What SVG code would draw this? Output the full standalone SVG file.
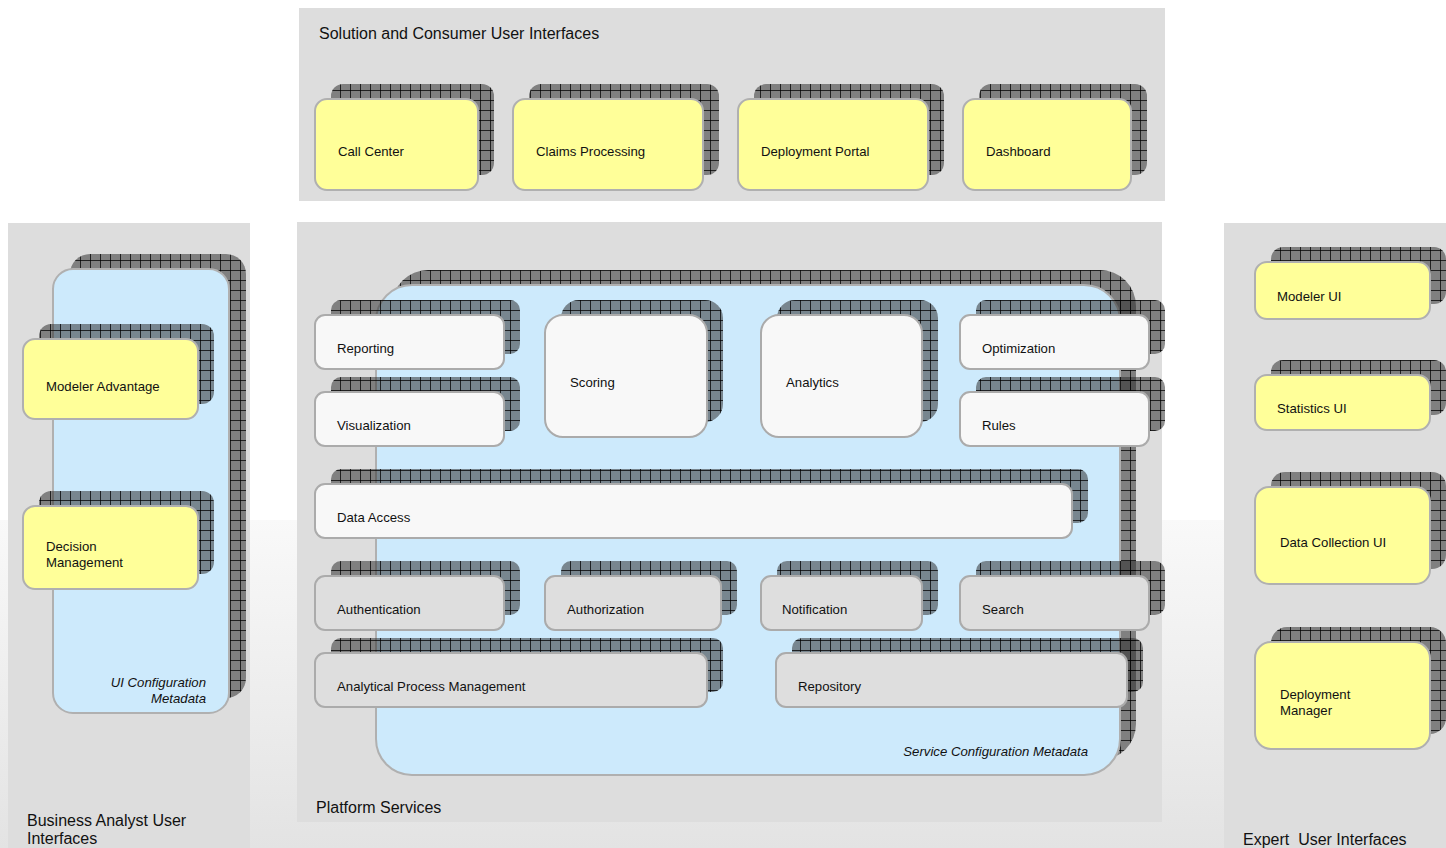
<svg xmlns="http://www.w3.org/2000/svg" width="1446" height="848" viewBox="0 0 1446 848">
<defs>
<linearGradient id="bg" x1="0" y1="0" x2="0" y2="1">
<stop offset="0" stop-color="#f9f9f9"/>
<stop offset="1" stop-color="#e3e3e3"/>
</linearGradient>
<pattern id="grid" width="10" height="10" patternUnits="userSpaceOnUse">
<rect width="10" height="10" fill="#2a2a2a" fill-opacity="0.52"/>
<path d="M0 0.5H10M0.5 0V10" stroke="#000" stroke-opacity="0.75" stroke-width="1" fill="none"/>
</pattern>
</defs>
<style>
.panel{fill:#dddddd}
.sh{fill:url(#grid)}
.y{fill:#ffff99;stroke:#b0b0b0;stroke-width:2}
.w{fill:#f8f8f8;stroke:#ababab;stroke-width:2}
.g{fill:#dedede;stroke:#ababab;stroke-width:2}
.b{fill:#cdeafc;stroke:#b0b0b0;stroke-width:2}
text{font-family:"Liberation Sans",Arial,sans-serif;fill:#111}
.t{font-size:13.2px}
.h{font-size:16px;white-space:pre}
.i{font-size:13.2px;font-style:italic;text-anchor:end}
</style>
<rect width="1446" height="848" fill="#ffffff"/>
<rect y="520" width="1446" height="328" fill="url(#bg)"/>

<g id="panel-top">
<rect class="panel" x="299" y="8" width="866" height="193"/>
<text class="h" x="319" y="39">Solution and Consumer User Interfaces</text>
</g>
<g id="panel-platform">
<rect class="panel" x="297" y="222" width="865" height="600"/>
<text class="h" x="316" y="813">Platform Services</text>
</g>
<g id="panel-left">
<rect class="panel" x="8" y="223" width="242" height="625"/>
<text class="h" x="27" y="826">Business Analyst User</text>
<text class="h" x="27" y="844">Interfaces</text>
</g>
<g id="panel-right">
<rect class="panel" x="1224" y="223" width="222" height="625"/>
<text class="h" x="1243" y="845" xml:space="preserve">Expert  User Interfaces</text>
</g>

<g id="call-center">
<rect class="sh" x="331" y="84" width="163" height="91" rx="12"/>
<rect class="y" x="315" y="99" width="163" height="91" rx="12"/>
<text class="t" x="338" y="156">Call Center</text>
</g>
<g id="claims-processing">
<rect class="sh" x="529" y="84" width="190" height="91" rx="12"/>
<rect class="y" x="513" y="99" width="190" height="91" rx="12"/>
<text class="t" x="536" y="156">Claims Processing</text>
</g>
<g id="deployment-portal">
<rect class="sh" x="754" y="84" width="190" height="91" rx="12"/>
<rect class="y" x="738" y="99" width="190" height="91" rx="12"/>
<text class="t" x="761" y="156">Deployment Portal</text>
</g>
<g id="dashboard">
<rect class="sh" x="979" y="84" width="168" height="91" rx="12"/>
<rect class="y" x="963" y="99" width="168" height="91" rx="12"/>
<text class="t" x="986" y="156">Dashboard</text>
</g>

<g id="ui-config">
<rect class="sh" x="70" y="254" width="176" height="444" rx="20"/>
<rect class="b" x="53" y="269" width="176" height="444" rx="20"/>
<text class="i" x="206" y="687">UI Configuration</text>
<text class="i" x="206" y="703">Metadata</text>
</g>
<g id="modeler-advantage">
<rect class="sh" x="39" y="324" width="175" height="80" rx="12"/>
<rect class="y" x="23" y="339" width="175" height="80" rx="12"/>
<text class="t" x="46" y="391">Modeler Advantage</text>
</g>
<g id="decision-management">
<rect class="sh" x="39" y="491" width="175" height="83" rx="12"/>
<rect class="y" x="23" y="506" width="175" height="83" rx="12"/>
<text class="t" x="46" y="551">Decision</text>
<text class="t" x="46" y="567">Management</text>
</g>

<g id="modeler-ui">
<rect class="sh" x="1271" y="247" width="175" height="57" rx="12"/>
<rect class="y" x="1255" y="262" width="175" height="57" rx="12"/>
<text class="t" x="1277" y="301">Modeler UI</text>
</g>
<g id="statistics-ui">
<rect class="sh" x="1271" y="360" width="175" height="55" rx="12"/>
<rect class="y" x="1255" y="375" width="175" height="55" rx="12"/>
<text class="t" x="1277" y="413">Statistics UI</text>
</g>
<g id="data-collection-ui">
<rect class="sh" x="1271" y="472" width="175" height="97" rx="14"/>
<rect class="y" x="1255" y="487" width="175" height="97" rx="14"/>
<text class="t" x="1280" y="547">Data Collection UI</text>
</g>
<g id="deployment-manager">
<rect class="sh" x="1271" y="627" width="175" height="107" rx="16"/>
<rect class="y" x="1255" y="642" width="175" height="107" rx="16"/>
<text class="t" x="1280" y="699">Deployment</text>
<text class="t" x="1280" y="715">Manager</text>
</g>

<g id="service-config">
<rect class="sh" x="392" y="270" width="744" height="490" rx="36"/>
<rect class="b" x="376" y="285" width="744" height="490" rx="36"/>
<text class="i" x="1088" y="756">Service Configuration Metadata</text>
</g>
<g id="reporting">
<rect class="sh" x="331" y="300" width="189" height="54" rx="10"/>
<rect class="w" x="315" y="315" width="189" height="54" rx="10"/>
<text class="t" x="337" y="353">Reporting</text>
</g>
<g id="visualization">
<rect class="sh" x="331" y="377" width="189" height="54" rx="10"/>
<rect class="w" x="315" y="392" width="189" height="54" rx="10"/>
<text class="t" x="337" y="430">Visualization</text>
</g>
<g id="scoring">
<rect class="sh" x="561" y="300" width="162" height="122" rx="18"/>
<rect class="w" x="545" y="315" width="162" height="122" rx="18"/>
<text class="t" x="570" y="387">Scoring</text>
</g>
<g id="analytics">
<rect class="sh" x="777" y="300" width="161" height="122" rx="18"/>
<rect class="w" x="761" y="315" width="161" height="122" rx="18"/>
<text class="t" x="786" y="387">Analytics</text>
</g>
<g id="optimization">
<rect class="sh" x="976" y="300" width="189" height="54" rx="10"/>
<rect class="w" x="960" y="315" width="189" height="54" rx="10"/>
<text class="t" x="982" y="353">Optimization</text>
</g>
<g id="rules">
<rect class="sh" x="976" y="377" width="189" height="54" rx="10"/>
<rect class="w" x="960" y="392" width="189" height="54" rx="10"/>
<text class="t" x="982" y="430">Rules</text>
</g>
<g id="data-access">
<rect class="sh" x="331" y="469" width="757" height="54" rx="10"/>
<rect class="w" x="315" y="484" width="757" height="54" rx="10"/>
<text class="t" x="337" y="522">Data Access</text>
</g>
<g id="authentication">
<rect class="sh" x="331" y="561" width="189" height="54" rx="10"/>
<rect class="g" x="315" y="576" width="189" height="54" rx="10"/>
<text class="t" x="337" y="614">Authentication</text>
</g>
<g id="authorization">
<rect class="sh" x="561" y="561" width="176" height="54" rx="10"/>
<rect class="g" x="545" y="576" width="176" height="54" rx="10"/>
<text class="t" x="567" y="614">Authorization</text>
</g>
<g id="notification">
<rect class="sh" x="777" y="561" width="161" height="54" rx="10"/>
<rect class="g" x="761" y="576" width="161" height="54" rx="10"/>
<text class="t" x="782" y="614">Notification</text>
</g>
<g id="search">
<rect class="sh" x="976" y="561" width="189" height="54" rx="10"/>
<rect class="g" x="960" y="576" width="189" height="54" rx="10"/>
<text class="t" x="982" y="614">Search</text>
</g>
<g id="analytical-process-management">
<rect class="sh" x="331" y="638" width="392" height="54" rx="10"/>
<rect class="g" x="315" y="653" width="392" height="54" rx="10"/>
<text class="t" x="337" y="691">Analytical Process Management</text>
</g>
<g id="repository">
<rect class="sh" x="792" y="638" width="351" height="54" rx="10"/>
<rect class="g" x="776" y="653" width="351" height="54" rx="10"/>
<text class="t" x="798" y="691">Repository</text>
</g>
<g id="connectors"/>
</svg>
